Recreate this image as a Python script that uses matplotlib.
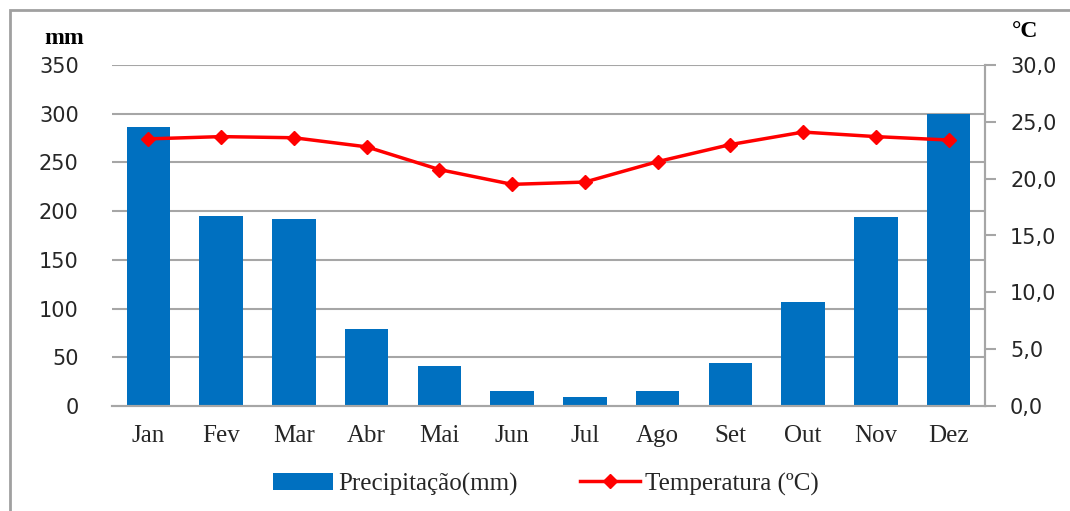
import numpy as np
import matplotlib.pyplot as plt
from matplotlib.patches import Rectangle

months = ["Jan", "Fev", "Mar", "Abr", "Mai", "Jun", "Jul", "Ago", "Set", "Out", "Nov", "Dez"]
precip_mm = [286, 195, 192, 79, 41, 15, 9, 15, 44, 107, 194, 300]
temp_c = [23.5, 23.7, 23.6, 22.8, 20.8, 19.5, 19.7, 21.5, 23.0, 24.1, 23.7, 23.4]

left_ticks = np.arange(0, 351, 50)
right_ticks = np.arange(0, 30.1, 5)

bar_color = "#0070C0"
line_color = "#FF0000"
grid_color = "#A6A6A6"
text_color = "#262626"
serif = ["Liberation Serif", "DejaVu Serif"]


def plot_climate():
    fig = plt.figure(figsize=(10.7, 5.11), dpi=100)
    ax = fig.add_axes([112 / 1070, 105 / 511, 873 / 1070, 341 / 511])
    ax2 = ax.twinx()

    x = np.arange(len(months))
    bars = ax.bar(x, precip_mm, width=0.6, color=bar_color, zorder=2,
                  label="Precipitação(mm)")
    line, = ax2.plot(x, temp_c, color=line_color, lw=2.5, marker="D",
                     markersize=7.5, zorder=3, label="Temperatura (ºC)")

    ax.set_xlim(-0.5, 11.5)
    ax.set_ylim(0, 350)
    ax2.set_ylim(0, 30)
    ax.set_yticks(left_ticks)
    ax2.set_yticks(right_ticks)
    ax2.set_yticklabels([f"{v:.1f}".replace(".", ",") for v in right_ticks])

    ax.set_xticks(x)
    ax.set_xticklabels(months, fontfamily=serif, fontsize=18)
    ax.tick_params(axis="x", length=0, pad=14, labelcolor=text_color)
    ax.tick_params(axis="y", length=0, pad=24, labelsize=15, labelcolor=text_color)
    ax2.tick_params(axis="y", length=8, width=1.5, color=grid_color, pad=10,
                    labelsize=15, labelcolor=text_color)

    for v in left_ticks[1:]:
        ax.axhline(v, color=grid_color, lw=1.5, zorder=1)

    for a in (ax, ax2):
        for side in ("top", "left"):
            a.spines[side].set_visible(False)
        a.spines["bottom"].set_color(grid_color)
        a.spines["bottom"].set_linewidth(1.5)
        a.spines["right"].set_color(grid_color)
        a.spines["right"].set_linewidth(1.5)
    ax.set_zorder(ax2.get_zorder() - 1)
    ax2.patch.set_visible(False)

    fig.text(64 / 1070, 1 - 38 / 511, "mm", fontfamily=serif, fontweight="bold",
             fontsize=17, ha="center", va="center")
    fig.text(1025 / 1070, 1 - 31 / 511, "°C", fontfamily=serif, fontweight="bold",
             fontsize=17, ha="center", va="center")

    fig.legend([bars, line], ["Precipitação(mm)", "Temperatura (ºC)"],
               loc="center", bbox_to_anchor=(0.51, 1 - 484 / 511), ncol=2,
               frameon=False, prop={"family": serif, "size": 18},
               handlelength=2.4, columnspacing=2.5, handletextpad=0.2,
               labelcolor=text_color)

    fig.patches.append(Rectangle((10 / 1070, -0.05), 1.1, 1 - 10 / 511 + 0.05,
                                 transform=fig.transFigure, fill=False,
                                 edgecolor="#A0A0A0", lw=2))

    fig.savefig("out.png", dpi=100)
    plt.close(fig)


if __name__ == "__main__":
    plot_climate()
